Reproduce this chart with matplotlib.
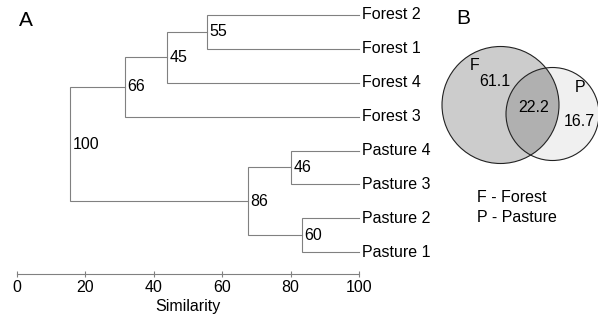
import matplotlib.pyplot as plt
from matplotlib.patches import Circle

plt.rcParams['font.family'] = ['Liberation Sans', 'DejaVu Sans']

# dendrogram data (top to bottom leaf order)
leaves = ['Forest 2', 'Forest 1', 'Forest 4', 'Forest 3',
          'Pasture 4', 'Pasture 3', 'Pasture 2', 'Pasture 1']
# merges: (child a, child b, similarity, support label)
# children are leaf indices or 'n<k>' for earlier merges
merges = [
    (0, 1, 55.6, '55'),
    ('n0', 2, 43.9, '45'),
    ('n1', 3, 31.5, '66'),
    (4, 5, 80.1, '46'),
    (6, 7, 83.2, '60'),
    ('n3', 'n4', 67.6, '86'),
    ('n2', 'n5', 15.5, '100'),
]
xticks = [0, 20, 40, 60, 80, 100]

# venn data
venn_forest_only = '61.1'
venn_shared = '22.2'
venn_pasture_only = '16.7'

W, H = 598, 317
fig = plt.figure(figsize=(W / 100, H / 100), dpi=100)

lc = '#808080'
fs = 11.5

ax = fig.add_axes([17 / W, 1 - 274 / H, (359 - 17) / W, (274 - 5) / H])
pos = {}
for i, name in enumerate(leaves):
    pos[i] = (100, i)
    ax.text(100.9, i, name, ha='left', va='center', fontsize=fs, clip_on=False)

for k, (a, b, sim, lab) in enumerate(merges):
    key_a = a if isinstance(a, int) else a
    xa, ya = pos[a]
    xb, yb = pos[b]
    ax.plot([xa, sim, sim, xb], [ya, ya, yb, yb], color=lc, lw=0.8,
            solid_joinstyle='miter', clip_on=False)
    ym = (ya + yb) / 2
    pos['n%d' % k] = (sim, ym)
    ax.text(sim + 0.7, ym, lab, ha='left', va='center', fontsize=fs)

ax.set_xlim(0, 100)
ax.set_ylim(7.64, -0.29)
for s in ['top', 'right', 'left']:
    ax.spines[s].set_visible(False)
ax.spines['bottom'].set_color(lc)
ax.spines['bottom'].set_linewidth(0.8)
ax.set_yticks([])
ax.set_xticks(xticks)
ax.tick_params(axis='x', direction='inout', length=5, width=0.8, color=lc,
               labelsize=fs, pad=2)
ax.set_xlabel('Similarity', fontsize=fs, labelpad=3)

# venn panel in pixel coordinates
ax2 = fig.add_axes([0, 0, 1, 1])
ax2.set_xlim(0, W)
ax2.set_ylim(H, 0)
ax2.axis('off')
ax2.patch.set_alpha(0)

cf, rf = (500.5, 105), 58.5
cp, rp = (552.5, 114), 46.5
ax2.add_patch(Circle(cf, rf, facecolor='#cccccc', edgecolor='none'))
pc = Circle(cp, rp, facecolor='#f0f0f0', edgecolor='none')
ax2.add_patch(pc)
inter = Circle(cf, rf, facecolor='#b0b0b0', edgecolor='none')
ax2.add_patch(inter)
inter.set_clip_path(pc)
ax2.add_patch(Circle(cf, rf, facecolor='none', edgecolor='#222222', lw=0.8))
ax2.add_patch(Circle(cp, rp, facecolor='none', edgecolor='#222222', lw=0.8))

ax2.text(475, 65, 'F', ha='center', va='center', fontsize=fs)
ax2.text(495, 82, venn_forest_only, ha='center', va='center', fontsize=fs)
ax2.text(534, 107, venn_shared, ha='center', va='center', fontsize=fs)
ax2.text(580, 87, 'P', ha='center', va='center', fontsize=fs)
ax2.text(579, 121, venn_pasture_only, ha='center', va='center', fontsize=fs)
ax2.text(477, 197, 'F - Forest', ha='left', va='center', fontsize=fs)
ax2.text(477, 217, 'P - Pasture', ha='left', va='center', fontsize=fs)

ax2.text(26, 20, 'A', ha='center', va='center', fontsize=15)
ax2.text(463, 19, 'B', ha='center', va='center', fontsize=15)

fig.savefig('out.png', dpi=100)
